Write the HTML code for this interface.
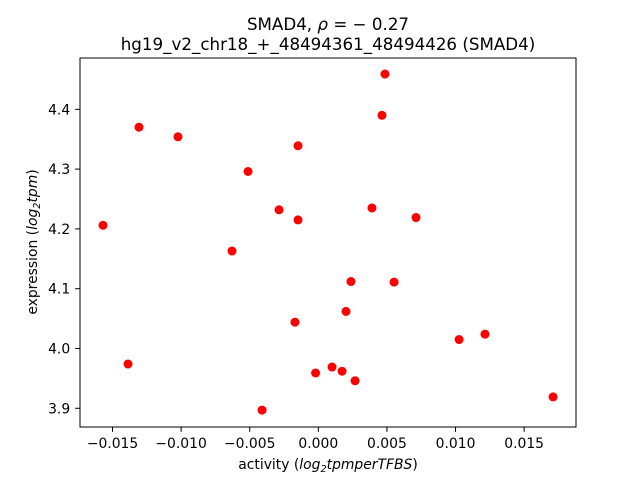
<!DOCTYPE html>
<html><head><meta charset="utf-8"><style>
body{margin:0;background:#fff;}
svg text{font-family:"DejaVu Sans","Liberation Sans",sans-serif;fill:#000;}
</style></head><body>
<svg id="chart" width="640" height="480" viewBox="0 0 640 480">
<rect width="640" height="480" fill="#fff"/>
<text x="328" y="30" font-size="16.7" text-anchor="middle">SMAD4, <tspan font-style="italic">ρ</tspan> = − 0.27</text>
<text x="328" y="50" font-size="16.7" text-anchor="middle">hg19_v2_chr18_+_48494361_48494426 (SMAD4)</text>
<g id="marks"></g>
<g id="axes"></g>
<rect x="80" y="58" width="496" height="369" fill="none" stroke="#000" stroke-width="1"/>
<text x="328" y="469" font-size="13.9" text-anchor="middle">activity (<tspan font-style="italic">log</tspan><tspan font-size="9.7" dy="3" font-style="italic">2</tspan><tspan dy="-3" font-style="italic">tpmperTFBS</tspan>)</text>
<text transform="translate(37,242) rotate(-90)" font-size="13.9" text-anchor="middle">expression (<tspan font-style="italic">log</tspan><tspan font-size="9.7" dy="3" font-style="italic">2</tspan><tspan dy="-3" font-style="italic">tpm</tspan>)</text>
</svg>
<script>
const xValues=[-0.01307,-0.01023,-0.01569,-0.01387,-0.00629,-0.00512,-0.00286,-0.00148,-0.00148,-0.00170,-0.00410,-0.0002,0.00100,0.00173,0.00202,0.00238,0.00268,0.00391,0.00464,0.00486,0.00552,0.00712,0.01026,0.01215,0.01711];
const yValues=[4.370,4.354,4.206,3.974,4.163,4.296,4.232,4.339,4.215,4.044,3.897,3.959,3.969,3.962,4.062,4.112,3.946,4.235,4.390,4.459,4.111,4.219,4.015,4.024,3.919];
const xTicks=[-0.015,-0.010,-0.005,0.000,0.005,0.010,0.015];
const xTickLabels=["−0.015","−0.010","−0.005","0.000","0.005","0.010","0.015"];
const yTicks=[3.9,4.0,4.1,4.2,4.3,4.4];
const yTickLabels=["3.9","4.0","4.1","4.2","4.3","4.4"];
const X0=80,X1=576,Y0=58,Y1=427;
const xMin=-0.01737,xMax=0.01878,yMin=3.8687,yMax=4.4858;
function sx(v){return X0+(v-xMin)/(xMax-xMin)*(X1-X0);}
function sy(v){return Y1-(v-yMin)/(yMax-yMin)*(Y1-Y0);}
const NS="http://www.w3.org/2000/svg";
const marks=document.getElementById('marks'),axes=document.getElementById('axes');
xValues.forEach((x,i)=>{
  const c=document.createElementNS(NS,'circle');
  c.setAttribute('cx',sx(x));c.setAttribute('cy',sy(yValues[i]));c.setAttribute('r',4.5);c.setAttribute('fill','#ff0000');
  
  
  marks.appendChild(c);
});
xTicks.forEach((t,i)=>{
  const px=sx(t);
  const l=document.createElementNS(NS,'line');
  l.setAttribute('x1',px);l.setAttribute('x2',px);l.setAttribute('y1',Y1);l.setAttribute('y2',Y1+4.9);l.setAttribute('stroke','#000');
  
  
  axes.appendChild(l);
  const tx=document.createElementNS(NS,'text');
  tx.setAttribute('x',px);tx.setAttribute('y',Y1+21);tx.setAttribute('font-size','13.9');tx.setAttribute('text-anchor','middle');
  tx.textContent=xTickLabels[i];
  
  
  axes.appendChild(tx);
});
yTicks.forEach((t,i)=>{
  const py=sy(t);
  const l=document.createElementNS(NS,'line');
  l.setAttribute('x1',X0-4.9);l.setAttribute('x2',X0);l.setAttribute('y1',py);l.setAttribute('y2',py);l.setAttribute('stroke','#000');
  
  
  axes.appendChild(l);
  const tx=document.createElementNS(NS,'text');
  tx.setAttribute('x',X0-9.8);tx.setAttribute('y',py+5);tx.setAttribute('font-size','13.9');tx.setAttribute('text-anchor','end');
  tx.textContent=yTickLabels[i];
  
  
  axes.appendChild(tx);
});
</script>
</body></html>
